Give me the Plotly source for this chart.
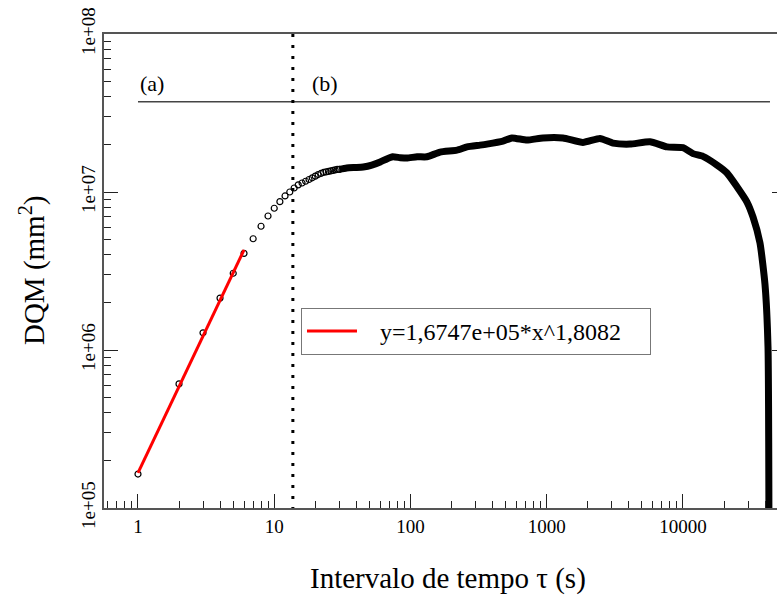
import plotly.graph_objects as go

# Open-circle data points (integer lags)
pts_x = [1, 2, 3, 4, 5, 6, 7, 8, 9, 10, 11, 12, 13, 14, 15, 16, 17, 18, 19, 20,
         21, 22, 23, 24, 25, 26, 27, 28, 29, 30]
pts_y = [1.64e5, 6.1e5, 1.285e6, 2.13e6, 3.06e6, 4.09e6, 5.06e6, 6.07e6, 7.05e6, 7.89e6,
         8.69e6, 9.44e6, 1.0e7, 1.06e7, 1.11e7, 1.14e7, 1.17e7, 1.2e7, 1.23e7, 1.26e7,
         1.29e7, 1.31e7, 1.33e7, 1.34e7, 1.35e7, 1.36e7, 1.37e7, 1.38e7, 1.39e7, 1.39e7]

# Dense part of the curve (reads as a thick black line)
dense_x = [30, 34, 40, 45, 52, 60, 67, 74, 84, 94, 112, 132, 165, 219, 260, 324, 364,
           477, 556, 716, 938, 1315, 1844, 2458, 3063, 4083, 5726, 7634, 10000, 11840,
           14020, 17770, 21040, 24910, 29490, 32640, 36730, 39990, 42070, 42790]
dense_y = [1.39e7, 1.42e7, 1.43e7, 1.44e7, 1.48e7, 1.55e7, 1.62e7, 1.67e7, 1.65e7, 1.64e7,
           1.67e7, 1.67e7, 1.79e7, 1.84e7, 1.93e7, 1.98e7, 2.01e7, 2.10e7, 2.20e7, 2.13e7,
           2.20e7, 2.20e7, 2.06e7, 2.18e7, 2.04e7, 2.01e7, 2.08e7, 1.93e7, 1.91e7, 1.75e7,
           1.68e7, 1.48e7, 1.32e7, 1.08e7, 8.64e6, 6.95e6, 4.76e6, 2.6e6, 1.05e6, 5.0e4]

# Power-law fit (endpoints)
fit_x = [1, 6]
fit_y = [1.67e5, 4.3e6]
fit_label = "\u00a0\u00a0\u00a0y=1,6747e+05*x^1,8082\u00a0\u00a0\u00a0\u00a0"

# Regime separators
hline_x = [1, 43500]
hline_y = [3.72e7, 3.72e7]
vline_x = [13.7, 13.7]
vline_y = [1e8, 1e5]

xtick_vals = [1, 10, 100, 1000, 10000]
xtick_text = ["1", "10", "100", "1000", "10000"]
ytick_vals = [1e5, 1e6, 1e7, 1e8]
ytick_text = ["1e+05", "1e+06", "1e+07", "1e+08"]

FONT = "Liberation Serif, Times New Roman, serif"

fig = go.Figure()
fig.add_trace(go.Scatter(x=hline_x, y=hline_y, mode="lines",
                         line=dict(color="#444", width=1.5), showlegend=False,
                         hoverinfo="skip"))
fig.add_trace(go.Scatter(x=vline_x, y=vline_y, mode="lines",
                         line=dict(color="black", width=3, dash="3px,8px"),
                         showlegend=False, hoverinfo="skip"))
fig.add_trace(go.Scatter(x=dense_x, y=dense_y, mode="lines",
                         line=dict(color="black", width=7, shape="spline", smoothing=0.5),
                         showlegend=False))
fig.add_trace(go.Scatter(x=pts_x, y=pts_y, mode="markers",
                         marker=dict(symbol="circle-open", size=6, color="black",
                                     line=dict(width=1.2, color="black")),
                         showlegend=False))
fig.add_trace(go.Scatter(x=fit_x, y=fit_y, mode="lines", name=fit_label,
                         line=dict(color="red", width=3)))
# invisible trace on the right axis so its ticks are drawn
fig.add_trace(go.Scatter(x=[1], y=[1e6], yaxis="y2", mode="markers",
                         marker=dict(opacity=0), showlegend=False, hoverinfo="skip"))

fig.update_layout(
    width=777, height=599,
    margin=dict(l=104, r=0, t=34, b=91),
    paper_bgcolor="white", plot_bgcolor="white",
    font=dict(family=FONT, color="black", size=19),
    xaxis=dict(type="log", range=[-0.2495, 4.690], showgrid=False, zeroline=False,
               showline=True, linecolor="#555", linewidth=1.5, mirror=True,
               ticks="inside", ticklen=14, tickwidth=1.2, tickcolor="#222",
               tickvals=xtick_vals, ticktext=xtick_text,
               tickfont=dict(family=FONT, size=19, color="black"),
               minor=dict(ticks="inside", ticklen=7, tickwidth=1.2, tickcolor="#222",
                          dtick="D1", showgrid=False)),
    yaxis=dict(type="log", range=[5, 8], showgrid=False, zeroline=False,
               showline=True, linecolor="#555", linewidth=1.5,
               ticks="inside", ticklen=14, tickwidth=1.2, tickcolor="#222",
               tickvals=ytick_vals, ticktext=ytick_text, tickangle=-90,
               tickfont=dict(family=FONT, size=19, color="black"),
               minor=dict(ticks="inside", ticklen=7, tickwidth=1.2, tickcolor="#222",
                          dtick="D1", showgrid=False)),
    yaxis2=dict(type="log", range=[5, 8], overlaying="y", side="right",
                showgrid=False, zeroline=False, showline=False,
                ticks="inside", ticklen=5, tickwidth=1.2, tickcolor="#222",
                tickvals=ytick_vals, showticklabels=False),
    legend=dict(x=0.2927, y=0.4219, xanchor="left", yanchor="top",
                bgcolor="white", bordercolor="#777", borderwidth=1,
                font=dict(family=FONT, size=24), itemwidth=50),
    showlegend=True,
    annotations=[
        dict(text="Intervalo de tempo τ (s)", xref="paper", yref="paper",
             x=0.511, y=-0.1477, xanchor="center", yanchor="middle",
             showarrow=False, font=dict(family=FONT, size=29)),
        dict(text="DQM (mm<sup>2</sup>)", xref="paper", yref="paper",
             x=-0.107, y=0.502, xanchor="center", yanchor="middle",
             textangle=-90, showarrow=False, font=dict(family=FONT, size=29)),
        dict(text="(a)", x=0, y=7.684, xref="x", yref="y", xanchor="left",
             yanchor="middle", showarrow=False, font=dict(family=FONT, size=22)),
        dict(text="(b)", x=1.262, y=7.684, xref="x", yref="y", xanchor="left",
             yanchor="middle", showarrow=False, font=dict(family=FONT, size=22)),
    ],
)

fig.write_html("out.html")
